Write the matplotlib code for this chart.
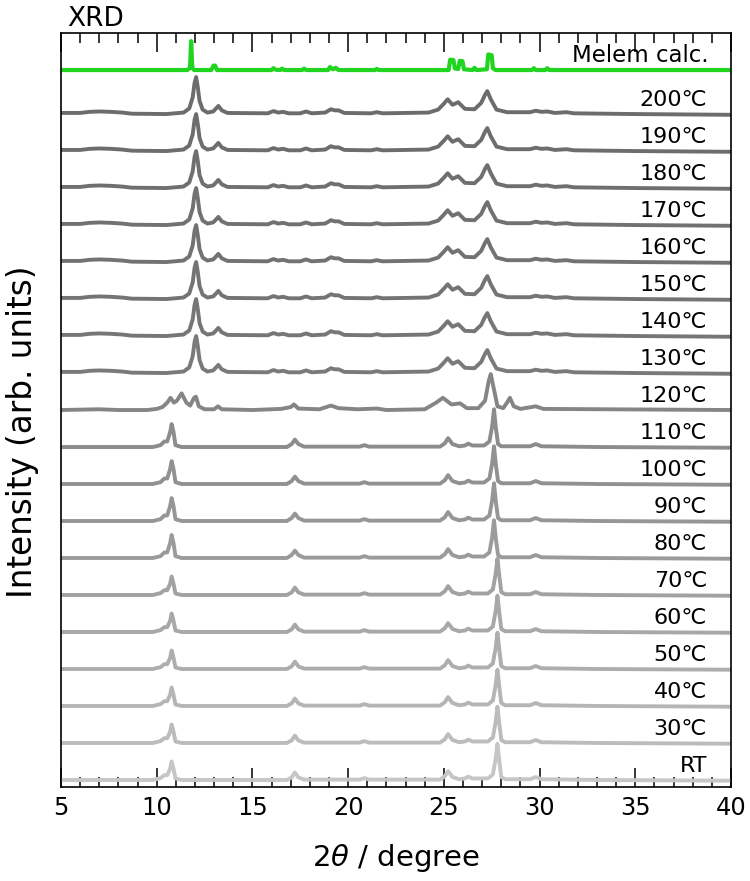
import numpy as np
import matplotlib
matplotlib.use("Agg")
import matplotlib.pyplot as plt

melem_x = [5.0, 8.0, 11.6, 11.74, 11.8, 11.86, 11.95, 12.85, 12.97, 13.05, 13.15,
           16.0, 16.1, 16.2, 16.45, 16.55, 16.65, 17.6, 17.7, 17.8, 18.95, 19.05,
           19.2, 19.35, 19.5, 21.4, 21.5, 21.6, 25.25, 25.33, 25.5, 25.58, 25.75,
           25.83, 25.97, 26.05, 26.5, 26.6, 26.7, 27.25, 27.32, 27.5, 27.56, 27.7,
           29.6, 29.7, 29.8, 30.3, 30.4, 30.5, 40.0]
melem_y = [0.0, 0.0, 0.0, 0.06, 0.78, 0.06, 0.0, 0.0, 0.12, 0.12, 0.0,
           0.0, 0.05, 0.01, 0.0, 0.04, 0.0, 0.0, 0.04, 0.0, 0.0, 0.08,
           0.02, 0.06, 0.0, 0.0, 0.03, 0.0, 0.0, 0.28, 0.27, 0.04, 0.03,
           0.25, 0.24, 0.02, 0.0, 0.06, 0.0, 0.02, 0.42, 0.40, 0.05, 0.0,
           0.0, 0.05, 0.0, 0.0, 0.05, 0.0, 0.0]

ht_x = [5.0, 6.0, 6.5, 7.0, 7.6, 8.2, 8.7, 10.5, 11.4, 11.7, 11.88, 11.98,
        12.06, 12.14, 12.24, 12.4, 12.65, 12.95, 13.1, 13.22, 13.4, 13.7, 15.8,
        16.1, 16.35, 16.6, 16.9, 17.5, 17.8, 18.1, 18.8, 19.1, 19.3, 19.5,
        19.8, 21.2, 21.5, 21.8, 24.2, 24.7, 25.0, 25.2, 25.45, 25.75, 26.1,
        26.6, 26.95, 27.15, 27.27, 27.45, 27.75, 28.3, 29.5, 29.8, 30.1, 30.4,
        30.8, 31.4, 31.8, 35.0, 40.0]
ht_y = [0.03, 0.03, 0.06, 0.07, 0.06, 0.04, 0.01, 0.0, 0.04, 0.15, 0.45, 0.85,
        1.0, 0.75, 0.35, 0.12, 0.04, 0.07, 0.15, 0.22, 0.1, 0.03, 0.02,
        0.08, 0.04, 0.06, 0.02, 0.02, 0.07, 0.02, 0.04, 0.13, 0.1, 0.1,
        0.03, 0.02, 0.05, 0.02, 0.04, 0.12, 0.28, 0.4, 0.25, 0.32, 0.14,
        0.13, 0.3, 0.52, 0.62, 0.4, 0.12, 0.05, 0.05, 0.09, 0.06, 0.07,
        0.03, 0.05, 0.02, 0.0, -0.02]

t120_x = [5.0, 7.0, 8.0, 9.5, 10.0, 10.3, 10.55, 10.72, 10.9, 11.05, 11.3, 11.55,
          11.75, 11.95, 12.05, 12.2, 12.5, 13.0, 13.2, 13.4, 15.0, 16.0, 16.5,
          17.0, 17.17, 17.4, 18.5, 19.1, 19.5, 20.5, 21.5, 22.0, 24.0, 24.6,
          24.95, 25.4, 25.85, 26.2, 26.8, 27.15, 27.35, 27.45, 27.6, 27.8, 28.1,
          28.3, 28.45, 28.65, 29.0, 29.8, 30.2, 40.0]
t120_y = [0.0, 0.02, 0.0, 0.0, 0.03, 0.08, 0.2, 0.33, 0.2, 0.25, 0.45, 0.2,
          0.12, 0.33, 0.36, 0.1, 0.02, 0.02, 0.1, 0.02, 0.0, 0.02, 0.03,
          0.08, 0.15, 0.04, 0.02, 0.12, 0.05, 0.02, 0.04, 0.0, 0.02, 0.2,
          0.33, 0.15, 0.18, 0.05, 0.05, 0.25, 0.8, 0.97, 0.6, 0.1, 0.05,
          0.2, 0.33, 0.1, 0.03, 0.1, 0.03, 0.0]

lta_x = [5.0, 9.8, 10.2, 10.4, 10.55, 10.7, 10.78, 10.88, 10.98, 11.3, 16.8,
         17.05, 17.22, 17.4, 17.7, 20.6, 20.85, 21.1, 24.8, 25.05, 25.22, 25.45,
         25.8, 26.1, 26.27, 26.5, 27.1, 27.38, 27.52, 27.62, 27.72, 27.83, 28.0,
         29.5, 29.8, 30.1, 33.0, 40.0]
lta_y = [0.0, 0.0, 0.05, 0.15, 0.15, 0.4, 0.62, 0.4, 0.05, 0.0, 0.0,
         0.08, 0.2, 0.08, 0.01, 0.01, 0.05, 0.01, 0.01, 0.1, 0.24, 0.08,
         0.02, 0.04, 0.09, 0.04, 0.04, 0.15, 0.55, 1.02, 0.5, 0.08, 0.02,
         0.02, 0.08, 0.02, 0.0, -0.02]

ltb_x = [5.0, 9.8, 10.2, 10.4, 10.55, 10.7, 10.78, 10.88, 10.98, 11.3, 16.8,
         17.05, 17.22, 17.4, 17.7, 20.6, 20.85, 21.1, 24.8, 25.05, 25.22, 25.45,
         25.8, 26.1, 26.27, 26.5, 27.3, 27.56, 27.7, 27.8, 27.9, 28.0, 28.2,
         29.5, 29.8, 30.1, 33.0, 40.0]
ltb_y = [0.0, 0.0, 0.05, 0.13, 0.13, 0.3, 0.5, 0.3, 0.04, 0.0, 0.0,
         0.07, 0.2, 0.07, 0.01, 0.01, 0.05, 0.01, 0.01, 0.1, 0.24, 0.08,
         0.02, 0.04, 0.09, 0.04, 0.04, 0.15, 0.55, 0.98, 0.5, 0.08, 0.02,
         0.02, 0.08, 0.02, 0.0, -0.02]

labels = ["200℃", "190℃", "180℃", "170℃", "160℃", "150℃", "140℃",
          "130℃", "120℃", "110℃", "100℃", "90℃", "80℃", "70℃", "60℃",
          "50℃", "40℃", "30℃", "RT"]
offsets = [18, 17, 16, 15, 14, 13, 12, 11, 10, 9, 8, 7, 6, 5, 4, 3, 2, 1, 0]
shapes = ["ht"] * 8 + ["t120"] + ["lta"] * 4 + ["ltb"] * 6
colors = ["#6c6c6c", "#6d6d6d", "#6f6f6f", "#717171", "#727272", "#747474",
          "#767676", "#7a7a7a", "#858585", "#8c8c8c", "#919191", "#969696",
          "#9b9b9b", "#a2a2a2", "#a8a8a8", "#aeaeae", "#b5b5b5", "#bcbcbc",
          "#c6c6c6"]
melem_offset = 19.19

curves = {"ht": (ht_x, ht_y), "t120": (t120_x, t120_y),
          "lta": (lta_x, lta_y), "ltb": (ltb_x, ltb_y)}

fig = plt.figure(figsize=(7.5, 8.81), dpi=100)
ax = fig.add_axes([0.0813, 0.1067, 0.8934, 0.8558])

for lab, off, sh, col in zip(labels, offsets, shapes, colors):
    cx, cy = curves[sh]
    ax.plot(cx, np.array(cy) + off, color=col, lw=2.8,
            solid_joinstyle="round", solid_capstyle="round")
    ax.text(38.75, off + 0.22, lab, ha="right", va="baseline", fontsize=16)

ax.plot(melem_x, np.array(melem_y) + melem_offset, color="#20d420", lw=3,
        solid_joinstyle="round")
ax.text(38.85, melem_offset + 0.22, "Melem calc.", ha="right", va="baseline",
        fontsize=16.5)

ax.set_xlim(5, 40)
ax.set_ylim(-0.19, 20.19)
ax.set_xticks(np.arange(5, 41, 5))
ax.set_xticks(np.arange(5, 41, 1), minor=True)
ax.set_yticks([])
ax.tick_params(axis="x", which="major", direction="in", length=14, width=1.1,
               top=True, labelsize=17.4, pad=6.5)
ax.tick_params(axis="x", which="minor", direction="in", length=7, width=1.1,
               top=True)
for s in ax.spines.values():
    s.set_linewidth(1.2)

ax.set_xlabel(r"2$\theta$ / degree", fontsize=21)
ax.xaxis.set_label_coords(0.5, -0.073)
ax.set_ylabel("Intensity (arb. units)", fontsize=23.5)
ax.yaxis.set_label_coords(-0.0328, 0.471)

fig.text(67 / 750, 1 - 26 / 881, "XRD", fontsize=19, va="baseline")

fig.savefig("out.png", dpi=100)
